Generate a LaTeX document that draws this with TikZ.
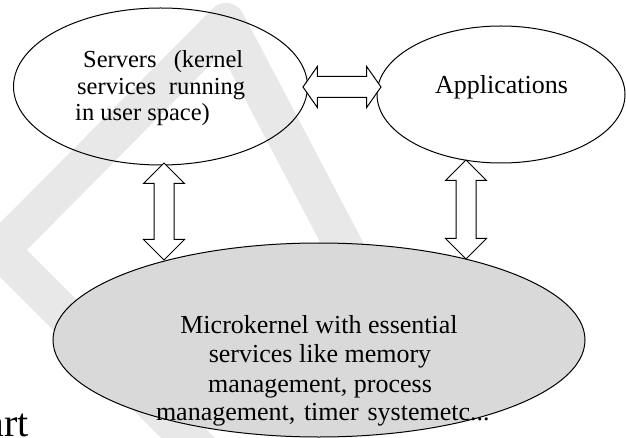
\documentclass[tikz,border=0pt]{standalone}
\usepackage{fontspec}
\setmainfont{Liberation Serif}
\usetikzlibrary{shapes.geometric,shapes.arrows}
\begin{document}
\begin{tikzpicture}[x=1pt,y=-1pt,
  bubble/.style={draw=black, line width=1pt, ellipse, inner sep=0pt},
  dblarr/.style={double arrow, draw=black, fill=white, line width=1pt,
    inner xsep=0pt, inner ysep=10pt, double arrow head extend=10pt,
    minimum width=40pt},
  txt/.style={font=\fontsize{26}{30}\selectfont, inner sep=0pt, anchor=base},
  stxt/.style={font=\fontsize{24.5}{28}\selectfont, inner sep=0pt, anchor=base west},
  mark/.style={draw=black!9, line width=38pt, line join=round, line cap=round}
]
\useasboundingbox (0,0) rectangle (626,438);
% watermark
\draw[draw=black!9, line width=38pt, line join=round] (352,262) -- (226,22) -- (0,250) -- (230,480);
% ellipses
\node[bubble, minimum width=294pt, minimum height=157pt] (srv) at (160.5,86.5) {};
\node[bubble, minimum width=248pt, minimum height=137pt] (app) at (501,94.5) {};
\node[bubble, fill=black!15, minimum width=532pt, minimum height=194pt] (mk) at (319,340) {};
% arrows
\node[dblarr, minimum height=78pt, double arrow tip angle=110] (a1) at (342,87) {};
\node[dblarr, minimum height=97pt, double arrow tip angle=90, rotate=90,
  inner ysep=9.5pt, double arrow head extend=10.5pt] (a2) at (164,211.5) {};
\node[dblarr, minimum height=99pt, double arrow tip angle=90, rotate=90,
  inner ysep=9.5pt, double arrow head extend=10.5pt] (a3) at (466,209.5) {};
% texts
\node[stxt] (s1) at (83,68) {\makebox[160pt][s]{Servers\ \ (kernel}};
\node[stxt] (s2) at (77,95) {\makebox[168pt][s]{services\ \ running}};
\node[stxt] (s3) at (75,121) {in user space)};
\node[txt] (apptxt) at (501.5,94) {Applications};
\node[txt] (m1) at (319,333) {Microkernel with essential};
\node[txt] (m2) at (320,362) {services like memory};
\node[txt] (m3) at (320,392) {management, process};
\node[txt] (m4) at (319.5,420) {\makebox[327pt][s]{management,\ \ timer\ \ systemetc...}};
\node[inner sep=0pt, anchor=base east, font=\fontsize{40}{40}\selectfont] (art) at (29,436) {art};
\end{tikzpicture}
\end{document}
